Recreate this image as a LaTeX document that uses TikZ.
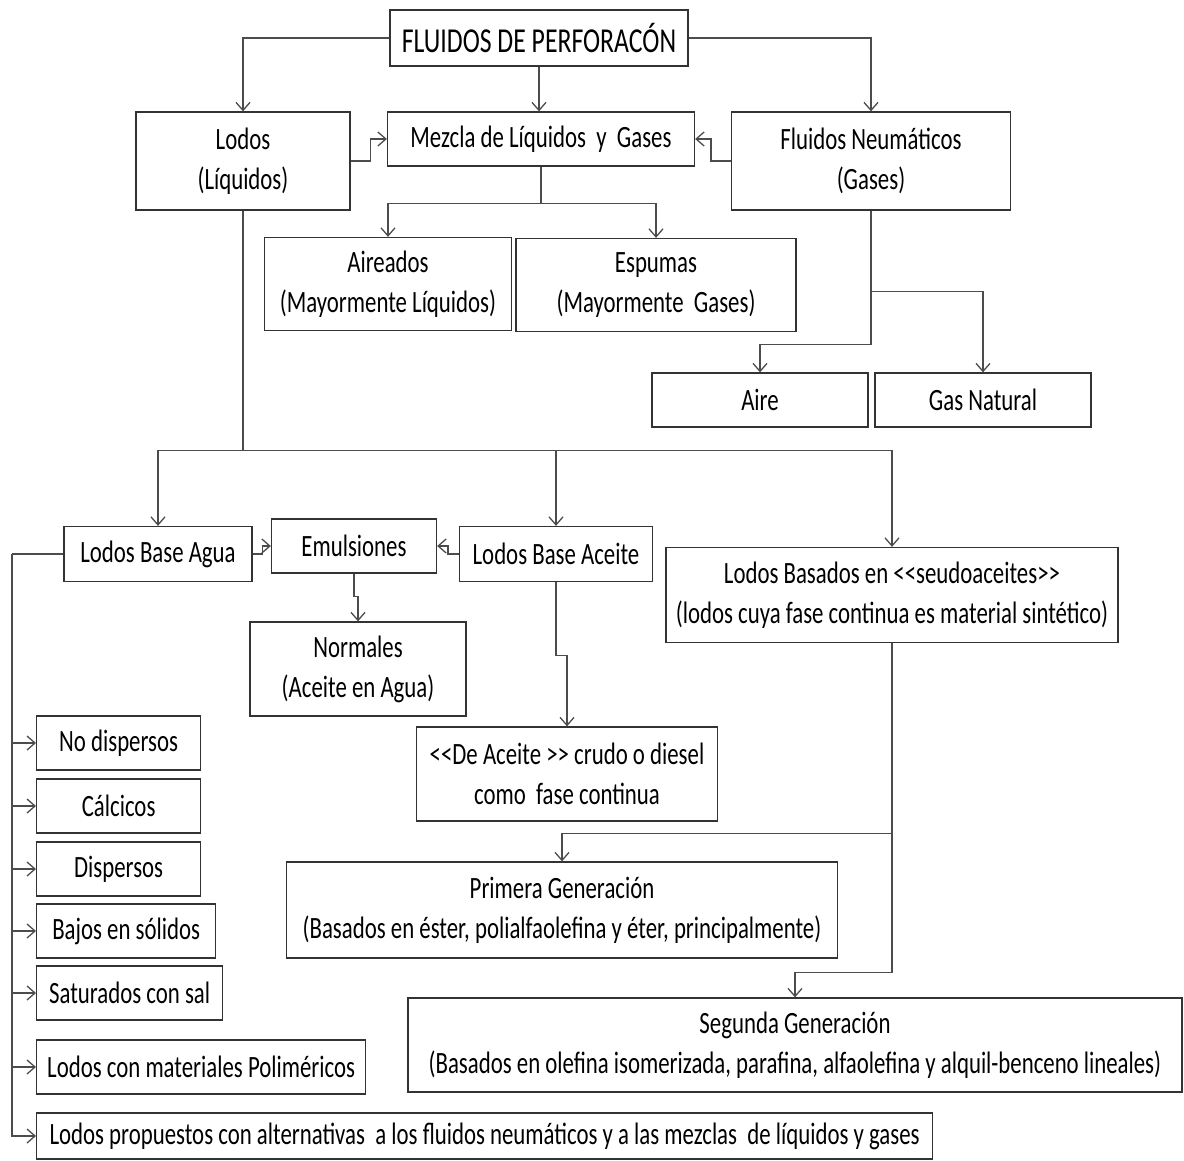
\documentclass[tikz,border=0pt]{standalone}
\usepackage{fontspec}
\setmainfont[FakeStretch=0.736]{Carlito}
\usetikzlibrary{arrows.meta}
\newcommand\ltlt{<\kern0pt<}
\newcommand\gtgt{>\kern0pt>}
\tikzset{
  box/.style={draw=black!80, line width=1.3pt, align=center, inner sep=0pt,
    font=\fontsize{31}{40}\selectfont},
  arr/.style={-{Straight Barb[length=8pt,width=14pt]}},
}
\begin{document}
\begin{tikzpicture}[x=1pt,y=-1pt,line width=1.3pt,draw=black!70]
    \useasboundingbox (0,0) rectangle (1184,1160);
    \node[box,minimum width=298,minimum height=56,font=\fontsize{35}{40}\selectfont] (title) at (539,38) {FLUIDOS DE PERFORACÓN};
    \node[box,minimum width=214,minimum height=98] (lodos) at (243,161) {Lodos\\(Líquidos)};
    \node[box,minimum width=307,minimum height=54] (mezcla) at (541,139) {Mezcla de Líquidos~ y~ Gases};
    \node[box,minimum width=279,minimum height=98] (neum) at (871,161) {Fluidos Neumáticos\\(Gases)};
    \node[box,minimum width=247,minimum height=93] (aireados) at (388,284) {Aireados\\(Mayormente Líquidos)};
    \node[box,minimum width=280,minimum height=93] (espumas) at (656,285) {Espumas\\(Mayormente~ Gases)};
    \node[box,minimum width=216,minimum height=54] (aire) at (760,400) {Aire};
    \node[box,minimum width=216,minimum height=54] (gasnat) at (983,400) {Gas Natural};
    \node[box,minimum width=188,minimum height=55] (agua) at (158,554) {Lodos Base Agua};
    \node[box,minimum width=165,minimum height=54] (emul) at (354,546) {Emulsiones};
    \node[box,minimum width=193,minimum height=55] (aceite) at (556,554) {Lodos Base Aceite};
    \node[box,minimum width=452,minimum height=95] (seudo) at (892,595) {Lodos Basados en \ltlt seudoaceites\gtgt\\(lodos cuya fase continua es material sintético)};
    \node[box,minimum width=216,minimum height=94] (normales) at (358,669) {Normales\\(Aceite en Agua)};
    \node[box,minimum width=301,minimum height=94] (deaceite) at (567,774) {\ltlt De Aceite \gtgt\ crudo o diesel\\como~ fase continua};
    \node[box,minimum width=551,minimum height=96] (primera) at (562,910) {Primera Generación\\(Basados en éster, polialfaolefina y éter, principalmente)};
    \node[box,minimum width=774,minimum height=94] (segunda) at (795,1045) {Segunda Generación\\(Basados en olefina isomerizada, parafina, alfaolefina y alquil-benceno lineales)};
    % tipos de lodos base agua
    \coordinate (bus) at (12,554);
    \draw (agua.west) -- (bus);
    \foreach \n/\y/\w/\h/\t in {nodisp/743/164/54/No dispersos, calc/806/164/54/Cálcicos,
        disp/869/164/54/Dispersos, bajos/931/179/54/Bajos en sólidos,
        satur/993/186/54/Saturados con sal, polim/1067/329/54/Lodos con materiales Poliméricos,
        prop/1136/896/46/Lodos propuestos con alternativas~ a los fluidos neumáticos y a las mezclas~ de líquidos y gases}{
      \node[box,anchor=west,minimum width=\w,minimum height=\h] (\n) at (36,\y) {\t};
      \draw[arr] (bus) |- (\n.west);
    }
    % conectores
    \draw[arr] (title.west) -| (lodos.north);
    \draw[arr] (title.south) -- (title.south |- mezcla.north);
    \draw[arr] (title.east) -| (neum.north);
    \draw[arr] (lodos.east) -- ++(20,0) |- (mezcla.west);
    \draw[arr] (neum.west) -- ++(-20,0) |- (mezcla.east);
    \draw (mezcla.south) -- ++(0,37) coordinate (mzj);
    \draw[arr] (mzj) -| (aireados.north);
    \draw[arr] (mzj) -| (espumas.north);
    \draw (neum.south) -- ++(0,81) coordinate (nj);
    \draw[arr] (nj) -| (gasnat.north);
    \draw[arr] (nj) -- ++(0,53) -| (aire.north);
    \draw (lodos.south) -- ++(0,240) coordinate (lj);
    \draw[arr] (lj) -| (agua.north);
    \draw[arr] (lj) -| (aceite.north);
    \draw[arr] (lj) -| (seudo.north);
    \draw[arr] (agua.east) -- ++(10,0) |- (emul.west);
    \draw[arr] (aceite.west) -- ++(-11,0) |- (emul.east);
    \draw[arr] (emul.south) -- ++(0,23) -| (normales.north);
    \draw[arr] (aceite.south) -- ++(0,73) -| (deaceite.north);
    \draw (seudo.south) -- ++(0,190) coordinate (sj);
    \draw[arr] (sj) -| (primera.north);
    \draw[arr] (sj) -- ++(0,139) -| (segunda.north);
\end{tikzpicture}
\end{document}
